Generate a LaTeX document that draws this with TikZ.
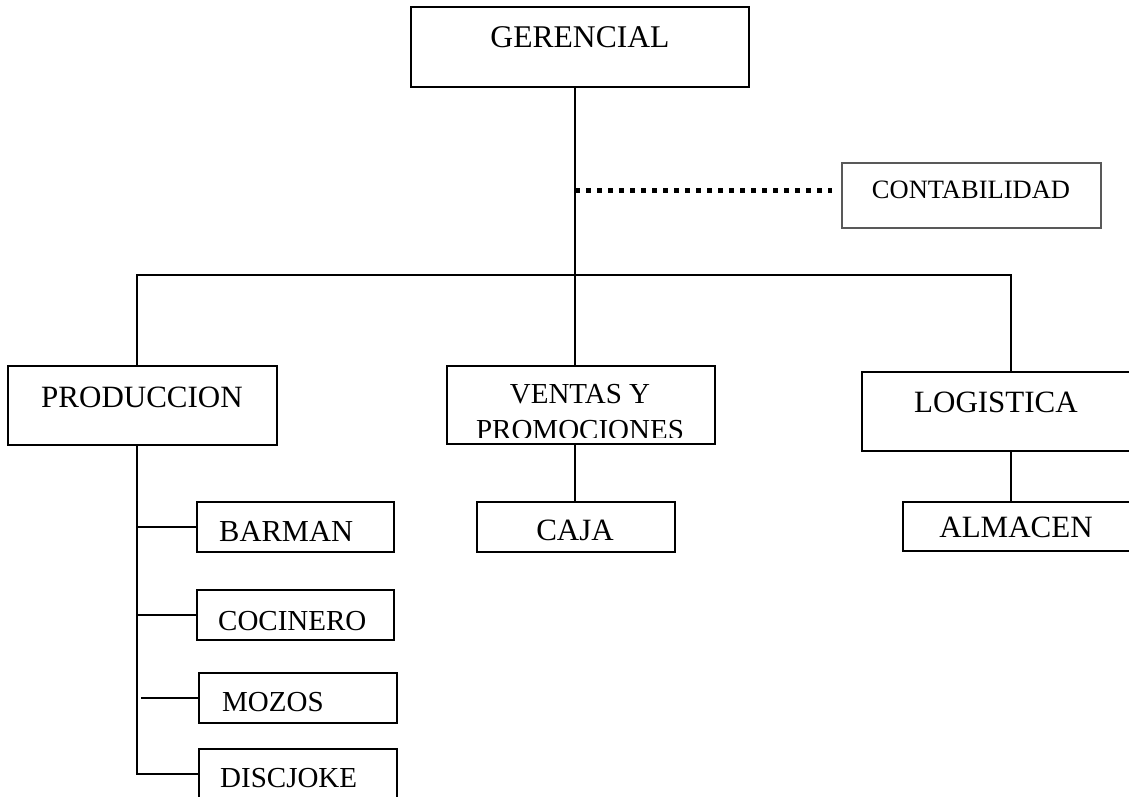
\documentclass[tikz,border=0pt]{standalone}
\usepackage{fontspec}
\setmainfont{Liberation Serif}
\usetikzlibrary{calc}
\begin{document}
\begin{tikzpicture}[x=1pt,y=-1pt,
  box/.style={draw=black,line width=2pt,inner sep=0pt,outer sep=0pt,fill=white},
  thinbox/.style={draw=black!65,line width=1.3pt,inner sep=0pt,outer sep=0pt},
  link/.style={draw=black,line width=2pt},
  dotline/.style={draw=black,line width=5pt,dash pattern=on 5pt off 6pt},
  big/.style={font=\fontsize{31}{37}\selectfont,inner sep=0pt},
  mid/.style={font=\fontsize{29}{34}\selectfont,inner sep=0pt},
  small/.style={font=\fontsize{26.5}{31}\selectfont,inner sep=0pt}]
\useasboundingbox (0,0) rectangle (1129,796);
\fill[white] (0,0) rectangle (1129,796);
\clip (0,0) rectangle (1129,796);

% boxes (centre, width, height)
\node[box,minimum width=338pt,minimum height=80pt] (ger) at (580,47) {};
\node[thinbox,minimum width=259pt,minimum height=65pt] (cont) at (971.5,195.5) {};
\node[box,minimum width=269pt,minimum height=79pt] (pro) at (142.5,405.5) {};
\node[box,minimum width=268pt,minimum height=78pt] (ven) at (581,405) {};
\node[box,minimum width=270pt,minimum height=79pt] (log) at (997,411.5) {};
\node[box,minimum width=198pt,minimum height=50pt] (caja) at (576,527) {};
\node[box,minimum width=228pt,minimum height=49pt] (alm) at (1017,526.5) {};
\node[box,minimum width=197pt,minimum height=50pt] (barm) at (295.5,527) {};
\node[box,minimum width=197pt,minimum height=50pt] (coc) at (295.5,615) {};
\node[box,minimum width=198pt,minimum height=50pt] (moz) at (298,698) {};
\node[box,minimum width=198pt,minimum height=50pt] (dis) at (298,774) {};

% labels
\node[big,anchor=base,font=\fontsize{31.6}{37}\selectfont] (gert) at (580,47) {GERENCIAL};
\node[small,anchor=base] (contt) at (971,198) {CONTABILIDAD};
\node[big,anchor=base] (prot) at (142,407) {PRODUCCION};
\begin{scope}
  \clip (448,367) rectangle (714,437.5);
  \node[mid,anchor=base] (vent) at (580,403) {VENTAS Y};
  \node[mid,anchor=base] (venp) at (580,439.5) {PROMOCIONES};
\end{scope}
\node[big,anchor=base] (logt) at (996,412) {LOGISTICA};
\node[big,anchor=base] (cajat) at (575,540) {CAJA};
\node[big,anchor=base] (almt) at (1016,537) {ALMACEN};
\node[mid,anchor=base west,font=\fontsize{30.5}{36}\selectfont] (barmt) at (219,541) {BARMAN};
\node[mid,anchor=base west] (coct) at (218,630) {COCINERO};
\node[mid,anchor=base west] (mozt) at (222,711) {MOZOS};
\node[mid,anchor=base west] (dist) at (220,787) {DISCJOKE};

% connector coordinates
\coordinate (trunk) at (575,275);
\coordinate (barL) at (137,275);
\coordinate (barR) at (1011,275);
\coordinate (dotA) at (575,190);
\coordinate (spine) at (137,0);
\coordinate (mozA) at (141,698);

% connectors
\draw[link] (trunk |- ger.south) -- (trunk |- ven.north);
\draw[link] (spine |- pro.north) -- (barL) -- (barR) -- (barR |- log.north);
\draw[dotline] (dotA) -- ($(dotA -| cont.west)+(-10,0)$);
\draw[link] (trunk |- ven.south) -- (trunk |- caja.north);
\draw[link] (barR |- log.south) -- (barR |- alm.north);
\draw[link] (spine |- pro.south) -- (spine |- dis.west) -- (dis.west);
\draw[link] (spine |- barm.west) -- (barm.west);
\draw[link] (spine |- coc.west) -- (coc.west);
\draw[link] (mozA) -- (moz.west);
\end{tikzpicture}
\end{document}
